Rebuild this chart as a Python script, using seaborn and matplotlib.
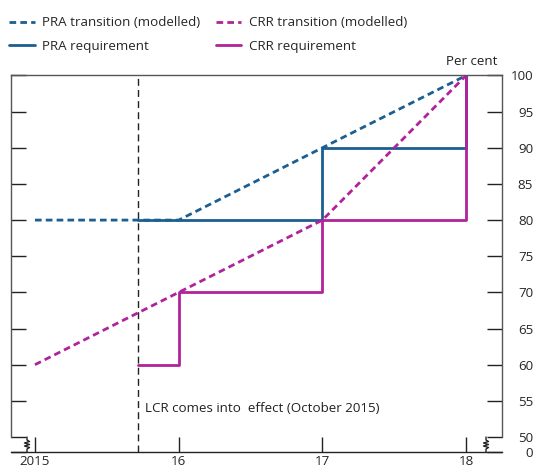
import numpy as np
import pandas as pd
import matplotlib
matplotlib.use("Agg")
import matplotlib.pyplot as plt
import seaborn as sns

# data (x in years, y in per cent)
lcr_date = 2015.72  # LCR comes into effect, October 2015

pra_trans_x = [2015, 2016, 2017, 2018]
pra_trans_y = [80, 80, 90, 100]
crr_trans_x = [2015, 2017, 2018]
crr_trans_y = [60, 80, 100]

pra_req_x = [lcr_date, 2017, 2018]
pra_req_y = [80, 90, 100]
crr_req_x = [lcr_date, 2016, 2017, 2018]
crr_req_y = [60, 70, 80, 100]

year_ticks = [2015, 2016, 2017, 2018]
year_labels = ["2015", "16", "17", "18"]
pct_ticks = [50, 55, 60, 65, 70, 75, 80, 85, 90, 95, 100]

PRA = "#1b5f92"
CRR = "#b0239b"
FRAME = "#555555"
FS = 9.6

sns.set_theme(style="white")
plt.rcParams["font.family"] = ["Open Sans", "DejaVu Sans"]
plt.rcParams["font.size"] = FS

fig = plt.figure(figsize=(5.35, 4.73), dpi=100)
ax = fig.add_axes([11 / 535, 1 - 452 / 473, 491 / 535, (452 - 75.5) / 473])

y0 = 50 - 15 / 7.22   # the broken-axis "0"
ax.set_xlim(2015 - 24 / 144, 2018 + 36 / 144)
ax.set_ylim(y0, 100)

dash = (2.4, 1.5)
sns.lineplot(x=pra_trans_x, y=pra_trans_y, ax=ax, color=PRA, lw=2.0,
             dashes=False, linestyle=(0, dash), sort=False, estimator=None,
             label="PRA transition (modelled)")
sns.lineplot(x=pra_req_x, y=pra_req_y, ax=ax, color=PRA, lw=2.0,
             drawstyle="steps-post", sort=False, estimator=None,
             label="PRA requirement")
sns.lineplot(x=crr_trans_x, y=crr_trans_y, ax=ax, color=CRR, lw=2.0,
             dashes=False, linestyle=(0, dash), sort=False, estimator=None,
             label="CRR transition (modelled)")
sns.lineplot(x=crr_req_x, y=crr_req_y, ax=ax, color=CRR, lw=2.0,
             drawstyle="steps-post", sort=False, estimator=None,
             label="CRR requirement")

ax.axvline(lcr_date, color="#222222", lw=1.0, linestyle=(0, (5, 3)), zorder=1)
ax.text(lcr_date + 0.045, 53.9, "LCR comes into  effect (October 2015)",
        ha="left", va="center", fontsize=FS, color="#222222")

# frame: broken at the bottom of the y axis
for s in ["left", "right", "top", "bottom"]:
    ax.spines[s].set_color(FRAME)
    ax.spines[s].set_linewidth(1.0)
ax.spines["bottom"].set_color("#222222")
ax.spines["left"].set_bounds(50, 100)
ax.spines["right"].set_bounds(50, 100)

ax.set_xticks(year_ticks)
ax.set_xticklabels(year_labels)
ax.set_yticks([y0] + pct_ticks)
ax.set_yticklabels(["0"] + [str(v) for v in pct_ticks])
ax.tick_params(axis="x", direction="in", length=11, width=1, color="#222222",
               pad=2.5, labelsize=FS, bottom=True, top=False)
ax.tick_params(axis="y", direction="in", length=11, width=1, color="#222222",
               left=True, right=True, labelleft=False, labelright=True,
               pad=22.5, labelsize=FS)
for lab in ax.get_yticklabels():
    lab.set_horizontalalignment("right")
ax.set_xlabel("")
ax.set_ylabel("")

# zigzag break marks
px_x = 1 / 491
px_y = 1 / (452 - 75.5)
zy = np.array([0, 3, 4.5, 6, 7.5, 9, 10.5, 12, 15]) * px_y
zx = np.array([0, 0, 2.5, -2.5, 2.5, -2.5, 2.5, 0, 0]) * px_x
for xc in [16 * px_x, 1 - 16 * px_x]:
    ax.plot(xc + zx, zy, transform=ax.transAxes, color="#222222", lw=1.0,
            clip_on=False)

ax.text(1 - 4 * px_x, 1 + 14 * px_y, "Per cent", transform=ax.transAxes,
        ha="right", va="center", fontsize=FS, color="#222222")

handles, labels = ax.get_legend_handles_labels()
ax.get_legend().remove()
fig.legend(handles, labels, ncol=2, loc="upper left",
           bbox_to_anchor=(0.0, 0.985), frameon=False, fontsize=FS,
           handlelength=1.9, handletextpad=0.55, columnspacing=1.2,
           labelspacing=0.8, borderaxespad=0.3)

fig.savefig("out.png", dpi=100)
